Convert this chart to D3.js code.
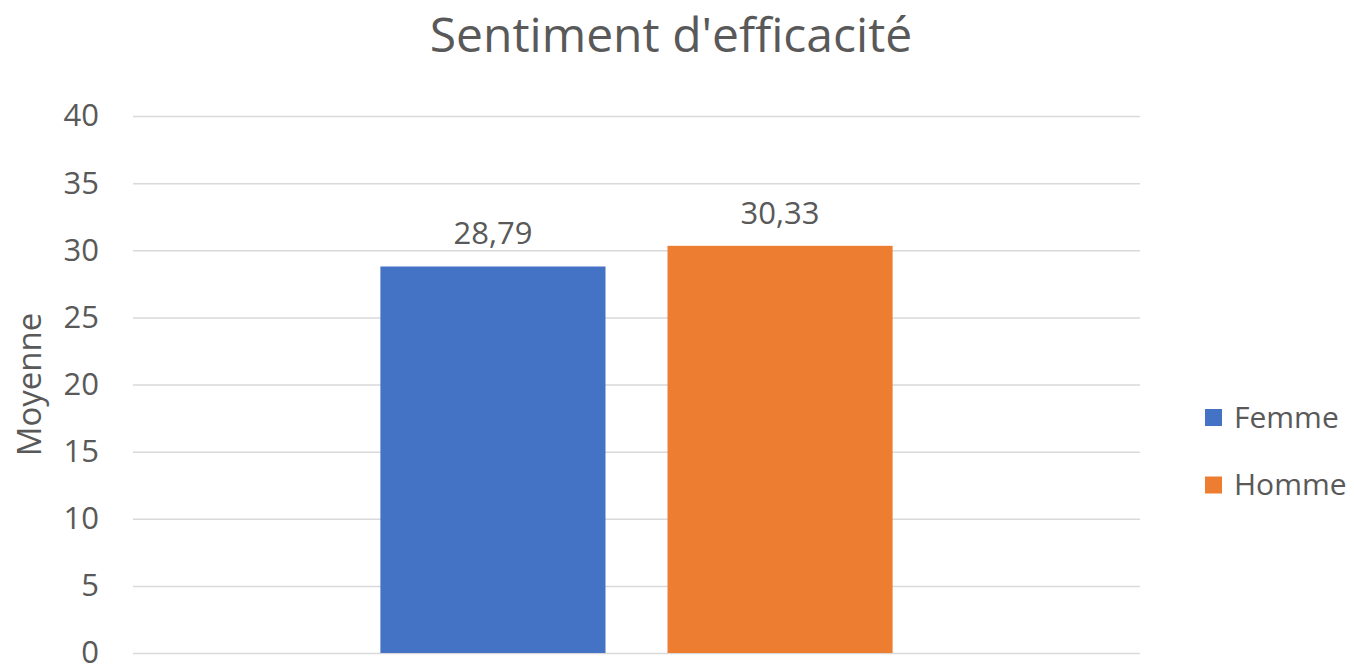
<!DOCTYPE html>
<html>
<head>
<meta charset="utf-8">
<script src="https://cdn.jsdelivr.net/npm/d3@7"></script>
<style>
  body { margin: 0; background: #fff; }
  svg text { font-family: "Open Sans", sans-serif; fill: #595959; }
</style>
</head>
<body>
<svg id="chart" width="1354" height="666"></svg>
<script>
// data
var categories = [""];
var series = ["Femme", "Homme"];
var values = [28.79, 30.33];
var colors = ["#4472c4", "#ed7d31"];
var yTicks = [0, 5, 10, 15, 20, 25, 30, 35, 40];

var svg = d3.select("#chart");
var plotLeft = 133, plotRight = 1140, plotTop = 116, plotBottom = 653;

var y = d3.scaleLinear()
    .domain([0, 40])
    .range([plotBottom, plotTop]);

var x0 = d3.scaleBand()
    .domain(categories)
    .range([plotLeft, plotRight])
    .paddingInner(0)
    .paddingOuter(0.483);

var x1 = d3.scaleBand()
    .domain(series)
    .range([0, x0.bandwidth()])
    .paddingInner(0.216)
    .paddingOuter(0);

var fmt = function (v) { return d3.format(".2f")(v).replace(".", ","); };

// title
svg.append("text")
    .attr("x", 671)
    .attr("y", 52)
    .attr("text-anchor", "middle")
    .style("font-size", "48px")
    .text("Sentiment d'efficacité");

// gridlines + tick labels
var yAxis = d3.axisLeft(y)
    .tickValues(yTicks)
    .tickSize(-(plotRight - plotLeft))
    .tickPadding(34);

var gy = svg.append("g")
    .attr("transform", "translate(" + plotLeft + ",0)")
    .call(yAxis);
gy.select(".domain").remove();
gy.selectAll(".tick line").attr("stroke", "#d9d9d9").attr("stroke-width", 1.5);
gy.selectAll(".tick text")
    .style("font-size", "31px")
    .attr("fill", "#595959");

// axis title
svg.append("text")
    .attr("transform", "translate(41," + ((plotTop + plotBottom) / 2) + ") rotate(-90)")
    .attr("text-anchor", "middle")
    .style("font-size", "33px")
    .text("Moyenne");

// bars
var g = svg.append("g")
    .attr("transform", "translate(" + x0(categories[0]) + ",0)");

g.selectAll("rect")
    .data(values)
    .enter().append("rect")
    .attr("x", function (d, i) { return x1(series[i]); })
    .attr("y", function (d) { return y(d); })
    .attr("width", x1.bandwidth())
    .attr("height", function (d) { return plotBottom - y(d); })
    .attr("fill", function (d, i) { return colors[i]; });

g.selectAll(".label")
    .data(values)
    .enter().append("text")
    .attr("class", "label")
    .attr("x", function (d, i) { return x1(series[i]) + x1.bandwidth() / 2; })
    .attr("y", function (d) { return y(d) - 22; })
    .attr("text-anchor", "middle")
    .style("font-size", "31px")
    .text(fmt);

// legend
var legend = svg.append("g")
    .attr("transform", "translate(1205,417)");

var item = legend.selectAll("g")
    .data(series)
    .enter().append("g")
    .attr("transform", function (d, i) { return "translate(0," + (i * 67.5) + ")"; });

item.append("rect")
    .attr("x", 0)
    .attr("y", -8)
    .attr("width", 17)
    .attr("height", 17)
    .attr("fill", function (d, i) { return colors[i]; });

item.append("text")
    .attr("x", 29)
    .attr("y", 0)
    .attr("dy", "0.36em")
    .style("font-size", "30px")
    .text(function (d) { return d; });
</script>
</body>
</html>
